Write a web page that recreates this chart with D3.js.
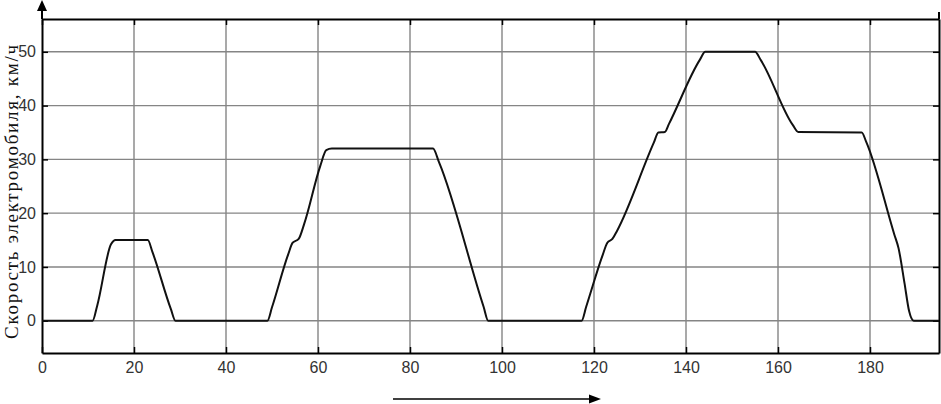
<!DOCTYPE html>
<html>
<head>
<meta charset="utf-8">
<script src="https://cdn.jsdelivr.net/npm/d3@7"></script>
<style>
  body { margin: 0; background: #fff; }
</style>
</head>
<body>
<div id="chart"></div>
<script>
// time, s
const time = [0, 11, 12, 15, 16, 23, 24, 28, 29,
  49, 50, 53.5, 54.5, 55.8, 57, 60.5, 61.8, 63, 85, 86.3, 96, 97,
  117.3, 118.3, 121.8, 122.9, 124, 125, 133, 134, 135.4, 136.3, 143, 144.2,
  155, 156.3, 163.2, 164.4, 178.2, 179.2, 185.3, 186.2, 187.5, 188.5, 189.5, 195];
// speed, km/h
const speed = [0, 0, 2.8, 14.2, 15, 15, 12.8, 2.2, 0,
  0, 2.5, 12.3, 14.5, 15.2, 18, 28.8, 31.7, 32, 32, 29.5, 2.6, 0,
  0, 2.6, 12, 14.5, 15.2, 16.7, 33.1, 35, 35.1, 36.6, 48.5, 50,
  50, 48.4, 36.4, 35.1, 35, 33.2, 16, 13.5, 7, 1.8, 0, 0];
const xTicks = [0, 20, 40, 60, 80, 100, 120, 140, 160, 180];
const yTicks = [0, 10, 20, 30, 40, 50];
const yLabel = "Скорость электромобиля, км/ч";

const width = 941, height = 404;
const margin = { top: 19, right: 2, bottom: 51, left: 42 };

const x = d3.scaleLinear().domain([0, 195]).range([margin.left, width - margin.right]);
const y = d3.scaleLinear().domain([-6, 56.1]).range([height - margin.bottom, margin.top]);

const svg = d3.select("#chart").append("svg")
  .attr("width", width)
  .attr("height", height);

// grid
svg.append("g")
  .selectAll("line")
  .data(xTicks.slice(1))
  .join("line")
  .attr("x1", d => x(d)).attr("x2", d => x(d))
  .attr("y1", y(56.1)).attr("y2", y(-6))
  .attr("stroke", "#858585").attr("stroke-width", 1.4);

svg.append("g")
  .selectAll("line")
  .data(yTicks)
  .join("line")
  .attr("x1", x(0)).attr("x2", x(195))
  .attr("y1", d => y(d)).attr("y2", d => y(d))
  .attr("stroke", "#858585").attr("stroke-width", 1.4);

// axes with inward ticks
const fontSans = "'Liberation Sans', Arial, sans-serif";
const axBottom = svg.append("g")
  .attr("transform", `translate(0,${y(-6)})`)
  .call(d3.axisBottom(x).tickValues(xTicks).tickSize(-6).tickPadding(9).tickSizeOuter(0));
const axTop = svg.append("g")
  .attr("transform", `translate(0,${y(56.1)})`)
  .call(d3.axisTop(x).tickValues(xTicks).tickSize(-6).tickFormat("").tickSizeOuter(0));
const axLeft = svg.append("g")
  .attr("transform", `translate(${x(0)},0)`)
  .call(d3.axisLeft(y).tickValues(yTicks).tickSize(-6).tickPadding(6).tickSizeOuter(0));
const axRight = svg.append("g")
  .attr("transform", `translate(${x(195)},0)`)
  .call(d3.axisRight(y).tickValues(yTicks).tickSize(-6).tickFormat("").tickSizeOuter(0));

[axBottom, axTop, axLeft, axRight].forEach(g => {
  g.select(".domain").attr("stroke", "#000").attr("stroke-width", 2);
  g.selectAll(".tick line").attr("stroke", "#000").attr("stroke-width", 1.5);
  g.selectAll("text").attr("font-family", fontSans).attr("font-size", 16).attr("fill", "#333");
});

// y axis arrow
svg.append("line")
  .attr("x1", x(0)).attr("x2", x(0))
  .attr("y1", 8).attr("y2", y(56.1))
  .attr("stroke", "#000").attr("stroke-width", 2);
svg.append("path")
  .attr("d", `M${x(0)},0 L${x(0) - 5},11 L${x(0) + 5},11 Z`)
  .attr("fill", "#000");
// right stub
svg.append("line")
  .attr("x1", x(195)).attr("x2", x(195))
  .attr("y1", 12).attr("y2", y(56.1))
  .attr("stroke", "#000").attr("stroke-width", 2);

// curve
const line = d3.line()
  .x((d, i) => x(time[i]))
  .y(d => y(d))
  .curve(d3.curveMonotoneX);
svg.append("path")
  .datum(speed)
  .attr("fill", "none")
  .attr("stroke", "#111")
  .attr("stroke-width", 2)
  .attr("stroke-linejoin", "round")
  .attr("d", line);

// y label
svg.append("text")
  .attr("transform", `translate(17.5,${192}) rotate(-90)`)
  .attr("text-anchor", "middle")
  .attr("font-family", "'Liberation Serif', 'Times New Roman', serif")
  .attr("font-size", 19)
  .attr("textLength", 294)
  .attr("lengthAdjust", "spacing")
  .attr("fill", "#111")
  .text(yLabel);

// direction arrow under x axis
svg.append("line")
  .attr("x1", 393).attr("x2", 592)
  .attr("y1", 399).attr("y2", 399)
  .attr("stroke", "#000").attr("stroke-width", 1.5);
svg.append("path")
  .attr("d", "M601,399 L589,394.5 L589,403.5 Z")
  .attr("fill", "#000");
</script>
</body>
</html>
